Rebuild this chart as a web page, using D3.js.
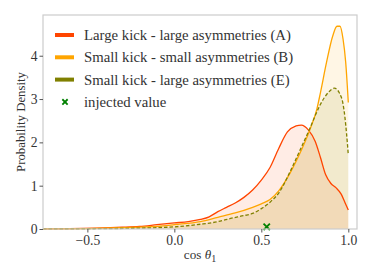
<!DOCTYPE html>
<html>
<head>
<meta charset="utf-8" />
<style>body { margin: 0; }</style>
</head>
<body>
<div id="chart"></div>
<script src="https://d3js.org/d3.v7.min.js"></script>
<script>
// series: [cos theta1, density]
var seriesA = [[-0.755,0.003],[-0.6,0.008],[-0.45,0.02],[-0.3,0.04],[-0.2,0.06],[-0.1,0.1],[0,0.14],[0.08,0.17],
  [0.15,0.22],[0.2,0.28],[0.25,0.4],[0.3,0.5],[0.35,0.6],[0.4,0.73],[0.45,0.9],[0.5,1.13],[0.55,1.42],[0.6,1.86],
  [0.65,2.24],[0.7,2.38],[0.73,2.4],[0.77,2.29],[0.81,2.02],[0.84,1.65],[0.87,1.25],[0.9,1.05],[0.93,0.95],
  [0.96,0.8],[0.98,0.62],[1.0,0.44]];
var seriesB = [[-0.755,0.002],[-0.5,0.01],[-0.3,0.03],[-0.1,0.06],[0,0.1],[0.15,0.17],[0.25,0.27],[0.35,0.37],
  [0.45,0.5],[0.5,0.58],[0.55,0.68],[0.6,0.88],[0.665,1.29],[0.72,1.73],[0.78,2.3],[0.82,2.78],[0.84,3.15],
  [0.875,3.85],[0.91,4.45],[0.935,4.68],[0.952,4.68],[0.97,4.38],[0.985,3.85],[1.0,2.92]];
var seriesE = [[-0.755,0.001],[-0.5,0.005],[-0.2,0.02],[0,0.05],[0.15,0.11],[0.25,0.17],[0.33,0.25],[0.4,0.31],
  [0.45,0.36],[0.5,0.47],[0.55,0.62],[0.6,0.83],[0.665,1.32],[0.72,1.8],[0.78,2.33],[0.81,2.62],[0.84,2.88],
  [0.885,3.15],[0.92,3.25],[0.96,3.04],[0.98,2.6],[0.99,2.2],[1.0,1.71]];
var injected = [[0.531, 0.05]];
var labels = ['Large kick - large asymmetries (A)', 'Small kick - small asymmetries (B)',
  'Small kick - large asymmetries (E)', 'injected value'];
var colors = ['#ff4500', '#ffa500', '#808000', '#008000'];
var xTicks = [-0.5, 0, 0.5, 1.0];
var yTicks = [0, 1, 2, 3, 4];

var width = 374, height = 280;
var margin = {top: 15, right: 17, bottom: 51, left: 43};
var FONT = '"Liberation Serif"';

var svg = d3.select('#chart').append('svg')
  .attr('width', width).attr('height', height)
  .attr('font-family', 'Liberation Serif');

// scale a text's font size so that it spans the width seen in the picture
function fitWidth(sel, target) {
  var fs = parseFloat(sel.attr('font-size'));
  var w = sel.node().getComputedTextLength();
  if (w > 0) sel.attr('font-size', (fs * target / w).toFixed(2));
}

var x = d3.scaleLinear().domain([-0.755, 1.05]).range([margin.left, width - margin.right]);
var y = d3.scaleLinear().domain([0, 4.94]).range([height - margin.bottom, margin.top]);

var area = d3.area().curve(d3.curveMonotoneX)
  .x(function(d) { return x(d[0]); }).y0(y(0)).y1(function(d) { return y(d[1]); });
var line = d3.line().curve(d3.curveMonotoneX)
  .x(function(d) { return x(d[0]); }).y(function(d) { return y(d[1]); });

var all = [seriesA, seriesB, seriesE];
all.forEach(function(s, i) {
  svg.append('path').attr('d', area(s)).attr('fill', colors[i]).attr('fill-opacity', 0.1);
});
all.forEach(function(s, i) {
  svg.append('path').attr('d', line(s)).attr('fill', 'none')
    .attr('stroke', colors[i]).attr('stroke-width', 1.3)
    .attr('stroke-dasharray', i === 2 ? '3.5,2' : null);
});

var xMark = d3.symbol().type(d3.symbolX).size(28);
svg.selectAll('.inj').data(injected).enter().append('path')
  .attr('transform', function(d) { return 'translate(' + x(d[0]) + ',' + y(d[1]) + ')'; })
  .attr('d', xMark).attr('fill', colors[3]).attr('stroke', colors[3]).attr('stroke-width', 1.8);

// frame
svg.append('rect').attr('x', margin.left).attr('y', margin.top)
  .attr('width', width - margin.left - margin.right).attr('height', height - margin.top - margin.bottom)
  .attr('fill', 'none').attr('stroke', '#cccccc').attr('stroke-width', 1.2);

var xAxis = svg.append('g').attr('transform', 'translate(0,' + (height - margin.bottom) + ')')
  .call(d3.axisBottom(x).tickValues(xTicks).tickSize(3.5).tickPadding(3)
    .tickFormat(function(d) { return d3.format('.1f')(d).replace('-', '\u2212'); }));
var yAxis = svg.append('g').attr('transform', 'translate(' + margin.left + ',0)')
  .call(d3.axisLeft(y).tickValues(yTicks).tickSize(3.5).tickPadding(2).tickFormat(d3.format('d')));
[xAxis, yAxis].forEach(function(g) {
  g.attr('font-family', 'Liberation Serif');
  g.select('.domain').remove();
  g.selectAll('.tick line').attr('stroke', '#555');
  g.selectAll('.tick text').attr('font-size', 14).attr('fill', '#333').style('font-family', FONT);
});
// size tick labels after "0.0" (about 17px wide in the picture)
var zeroLabel = xAxis.selectAll('.tick text').filter(function(d) { return d === 0; });
fitWidth(zeroLabel, 17);
var tickFs = zeroLabel.attr('font-size');
xAxis.selectAll('.tick text').attr('font-size', tickFs);
yAxis.selectAll('.tick text').attr('font-size', tickFs);

var xl = svg.append('text').attr('x', (margin.left + width - margin.right) / 2).attr('y', 259)
  .attr('text-anchor', 'middle').attr('font-size', 14).attr('fill', '#333').style('font-family', FONT);
xl.append('tspan').text('cos ');
xl.append('tspan').attr('font-style', 'italic').text('θ');
xl.append('tspan').attr('font-size', 10).attr('dy', 3).text('1');
fitWidth(xl, 32);

var yl = svg.append('text').attr('transform', 'translate(21,' + ((margin.top + height - margin.bottom) / 2) + ') rotate(-90)')
  .attr('text-anchor', 'middle').attr('dy', '0.35em').attr('font-size', 13.5).attr('fill', '#333')
  .style('font-family', FONT).text('Probability Density');
fitWidth(yl, 100);

// legend
var lg = svg.append('g');
var legendFs = null;
labels.forEach(function(t, i) {
  var ly = 35 + i * 22.3;
  if (i < 3) {
    lg.append('line').attr('x1', 55).attr('x2', 74).attr('y1', ly).attr('y2', ly)
      .attr('stroke', colors[i]).attr('stroke-width', 4);
  } else {
    lg.append('path').attr('transform', 'translate(65,' + ly + ')').attr('d', d3.symbol().type(d3.symbolX).size(20))
      .attr('fill', colors[3]).attr('stroke', colors[3]).attr('stroke-width', 1.8);
  }
  var tx = lg.append('text').attr('x', 84).attr('y', ly).attr('dy', '0.35em').attr('font-size', 14.5)
    .attr('fill', '#333').style('font-family', FONT).text(t);
  if (i === 0) { fitWidth(tx, 207); legendFs = tx.attr('font-size'); }
  else tx.attr('font-size', legendFs);
});
</script>
</body>
</html>
